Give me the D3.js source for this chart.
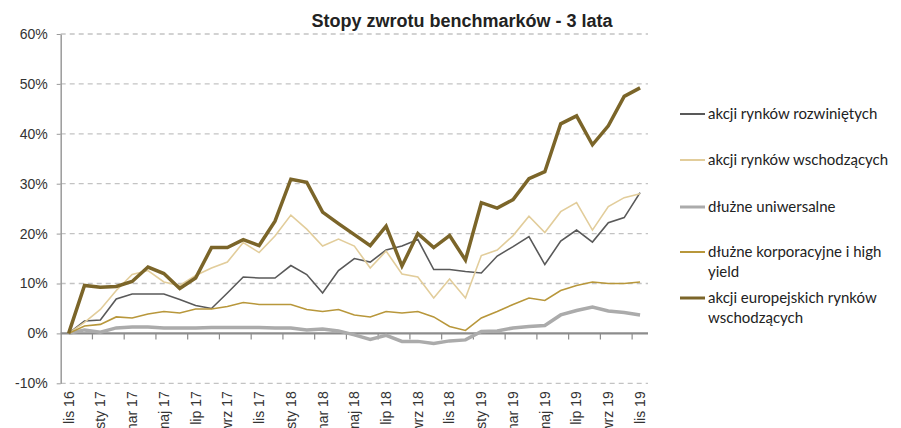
<!DOCTYPE html>
<html>
<head>
<meta charset="utf-8">
<script src="https://cdn.jsdelivr.net/npm/d3@7"></script>
<style>
  body { margin: 0; background: #fff; }
  svg { display: block; }
</style>
</head>
<body>
<div id="chart"></div>
<script>
// months (monthly data, lis 2016 - lis 2019)
const months = ["lis 16","gru 16","sty 17","lut 17","mar 17","kwi 17","maj 17","cze 17","lip 17","sie 17","wrz 17","paź 17",
  "lis 17","gru 17","sty 18","lut 18","mar 18","kwi 18","maj 18","cze 18","lip 18","sie 18","wrz 18","paź 18",
  "lis 18","gru 18","sty 19","lut 19","mar 19","kwi 19","maj 19","cze 19","lip 19","sie 19","wrz 19","paź 19","lis 19"];

const rozwinietych = [0,2.5,2.7,6.9,7.9,7.9,7.9,6.8,5.6,5.0,8.1,11.3,11.1,11.1,13.6,11.8,8.1,12.6,15.0,14.3,16.7,17.5,18.8,12.8,
  12.8,12.4,12.1,15.5,17.4,19.4,13.8,18.5,20.7,18.3,22.2,23.2,28.2];
const wschodzacych = [0,2.2,4.8,8.6,11.8,12.6,10.3,9.6,11.6,13.1,14.3,18.2,16.2,19.5,23.7,20.9,17.5,18.9,17.5,13.1,16.5,11.9,11.3,7.1,
  10.9,7.1,15.6,16.7,19.6,23.5,20.2,24.4,26.2,20.7,25.4,27.2,28.0];
const uniwersalne = [0,0.7,0.25,1.1,1.3,1.3,1.1,1.1,1.1,1.2,1.2,1.2,1.2,1.1,1.1,0.7,0.9,0.5,-0.3,-1.2,-0.4,-1.6,-1.6,-2.0,
  -1.5,-1.3,0.4,0.5,1.1,1.4,1.6,3.7,4.6,5.3,4.5,4.2,3.7];
const korporacyjne = [0,1.5,1.8,3.3,3.1,3.9,4.4,4.1,4.9,4.9,5.4,6.2,5.8,5.8,5.8,4.8,4.4,4.8,3.7,3.3,4.4,4.1,4.4,3.3,
  1.4,0.6,3.1,4.4,5.8,7.1,6.6,8.6,9.6,10.3,10.0,10.0,10.3];
const europejskich = [0,9.6,9.25,9.4,10.4,13.3,12.0,9.0,11.1,17.2,17.2,18.8,17.6,22.5,30.9,30.3,24.3,22.0,19.8,17.6,21.5,13.5,20.0,17.2,
  19.6,14.7,26.2,25.1,26.8,31.0,32.4,42.0,43.6,37.8,41.6,47.5,49.2];

const yTicks = [-10,0,10,20,30,40,50,60];

const series = [
  {name: ["akcji rynków rozwiniętych"], values: rozwinietych, color: "#595959", width: 1.6, ly: 114},
  {name: ["akcji rynków wschodzących"], values: wschodzacych, color: "#e2cd9b", width: 1.6, ly: 160},
  {name: ["dłużne uniwersalne"], values: uniwersalne, color: "#ababab", width: 3.5, ly: 207},
  {name: ["dłużne korporacyjne i high", "yield"], values: korporacyjne, color: "#b8973b", width: 1.6, ly: 252},
  {name: ["akcji europejskich rynków", "wschodzących"], values: europejskich, color: "#7b6529", width: 3.5, ly: 298}
];

const width = 901, height = 428;
const plotLeft = 60.7, plotRight = 648, plotTop = 34, plotBottom = 383.3;

const svg = d3.select("#chart").append("svg")
  .attr("width", width)
  .attr("height", height);

const x = d3.scaleBand()
  .domain(months)
  .range([plotLeft, plotRight])
  .padding(0);

const y = d3.scaleLinear()
  .domain([-10, 60])
  .range([plotBottom, plotTop]);

const cx = d => x(d) + x.bandwidth() / 2;

// gridlines
svg.append("g")
  .selectAll("line")
  .data(yTicks.filter(d => d !== 0))
  .join("line")
    .attr("x1", plotLeft).attr("x2", plotRight)
    .attr("y1", d => y(d)).attr("y2", d => y(d))
    .attr("stroke", "#c3c3c3")
    .attr("stroke-width", 1.3)
    .attr("stroke-dasharray", "5,4");

// y axis
const yAxis = svg.append("g")
  .attr("transform", `translate(${plotLeft},0)`)
  .call(d3.axisLeft(y).tickValues(yTicks).tickFormat(d => d + "%").tickSize(4).tickSizeOuter(0));
yAxis.select(".domain").attr("stroke", "#9a9a9a").attr("stroke-width", 1.5);
yAxis.selectAll(".tick line").attr("stroke", "#9a9a9a");
yAxis.selectAll("text")
  .attr("x", -13)
  .style("font-family", "Liberation Sans, Arial, sans-serif")
  .style("font-size", "14px")
  .attr("fill", "#333");

// x axis on 0%
const bounds = months.filter((d, i) => i % 2 === 1).map(d => x(d) + x.bandwidth());
svg.append("line")
  .attr("x1", plotLeft).attr("x2", plotRight)
  .attr("y1", y(0)).attr("y2", y(0))
  .attr("stroke", "#8c8c8c")
  .attr("stroke-width", 2.2);
svg.append("g")
  .selectAll("line")
  .data(bounds)
  .join("line")
    .attr("x1", d => d).attr("x2", d => d)
    .attr("y1", y(0)).attr("y2", y(0) + 6)
    .attr("stroke", "#8c8c8c")
    .attr("stroke-width", 1.2);

// x labels (every second month), at the bottom
svg.append("g")
  .selectAll("text")
  .data(months.filter((d, i) => i % 2 === 0))
  .join("text")
    .attr("transform", d => `translate(${cx(d)},${plotBottom + 8}) rotate(-90)`)
    .attr("text-anchor", "end")
    .attr("dy", "0.35em")
    .style("font-family", "Liberation Sans, Arial, sans-serif")
    .style("font-size", "14px")
    .attr("fill", "#333")
    .text(d => d);

// lines
const line = d3.line()
  .x((d, i) => cx(months[i]))
  .y(d => y(d));

svg.append("g")
  .selectAll("path")
  .data(series)
  .join("path")
    .attr("d", d => line(d.values))
    .attr("fill", "none")
    .attr("stroke", d => d.color)
    .attr("stroke-width", d => d.width)
    .attr("stroke-linejoin", "miter");

// title
svg.append("text")
  .attr("x", 462)
  .attr("y", 27)
  .attr("text-anchor", "middle")
  .style("font-family", "Liberation Sans Narrow, Liberation Sans, Arial, sans-serif")
  .style("font-weight", "bold")
  .style("font-size", "18px")
  .attr("fill", "#222")
  .text("Stopy zwrotu benchmarków - 3 lata");

// legend
const leg = svg.append("g");
series.forEach(s => {
  leg.append("line")
    .attr("x1", 680).attr("x2", 705)
    .attr("y1", s.ly).attr("y2", s.ly)
    .attr("stroke", s.color)
    .attr("stroke-width", s.width === 3.5 ? 3 : 2);
  const t = leg.append("text")
    .attr("x", 708)
    .attr("y", s.ly)
    .style("font-family", "Lato, sans-serif")
    .style("font-size", "15px")
    .attr("fill", "#222");
  s.name.forEach((n, j) => {
    t.append("tspan").attr("x", 708).attr("dy", j === 0 ? "0.35em" : 19.5).text(n);
  });
});
</script>
</body>
</html>
